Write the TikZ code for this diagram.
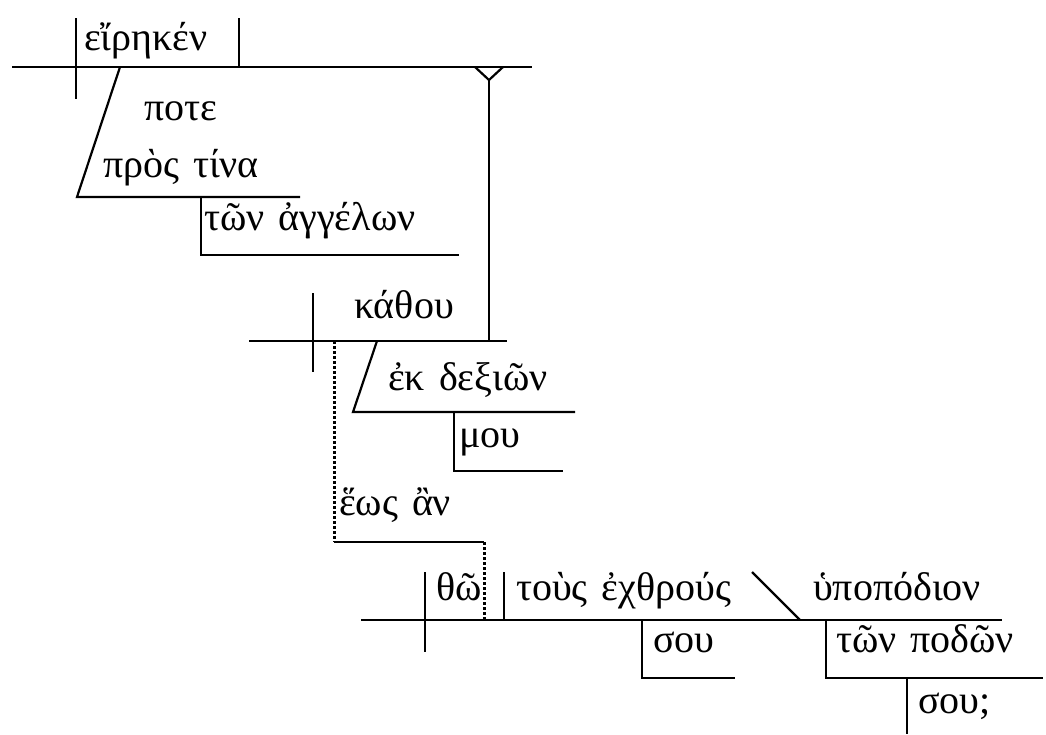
\documentclass[tikz,border=0pt]{standalone}
\usepackage{fontspec}
\setmainfont{Liberation Serif}[WordSpace = 1.4]
\usepackage{tikz}

\tikzset{
  word/.style = {anchor = base west, inner sep = 0pt, font = \fontsize{40}{46}\selectfont},
  dots/.style = {line width = 3pt, dash pattern = on 2.5pt off 2.5pt}
}

\begin{document}
\begin{tikzpicture}
  [x = 1pt, y = -1pt, line width = 2.2pt]
  \useasboundingbox (0,0) rectangle (1046,734);
  % main clause
  \draw (12,67) -- (532,67);
  \draw (76,18) -- (76,99);
  \draw (239,18) -- (239,67);
  \draw (475,67) -- (489,80) -- (503,67);
  \draw (489,80) -- (489,341);
  \draw (120,67) -- (77,197) -- (300,197);
  \draw (201,197) -- (201,255) -- (459,255);
  \draw (83,50) node[word] (eireken) {εἴρηκέν};
  \draw (143,120) node[word] (pote) {ποτε};
  \draw (102,177) node[word] (prostina) {πρὸς τίνα};
  \draw (203,230) node[word] (angelon) {τῶν ἀγγέλων};
  % direct discourse
  \draw (249,341) -- (507,341);
  \draw (313,293) -- (313,372);
  \draw (377,341) -- (353,412) -- (575,412);
  \draw (454,412) -- (454,471) -- (563,471);
  \draw (353,318) node[word] (kathou) {κάθου};
  \draw (387,390) node[word] (dexion) {ἐκ δεξιῶν};
  \draw (458,447) node[word] (mou) {μου};
  % temporal clause
  \draw[dots] (334,341) -- (334,542);
  \draw (334,542) -- (484,542);
  \draw[dots] (484,542) -- (484,620);
  \draw (338,515) node[word] (heos) {ἕως ἂν};
  \draw (361,620) -- (1002,620);
  \draw (425,572) -- (425,652);
  \draw (504,572) -- (504,620);
  \draw (752,572) -- (800,620);
  \draw (642,620) -- (642,678) -- (735,678);
  \draw (826,620) -- (826,678) -- (1043,678);
  \draw (907,678) -- (907,734);
  \draw (435,600) node[word] (tho) {θῶ};
  \draw (515,600) node[word] (echthrous) {τοὺς ἐχθρούς};
  \draw (812,600) node[word] (hypopodion) {ὑποπόδιον};
  \draw (652,652) node[word] (sou) {σου};
  \draw (835,652) node[word] (podon) {τῶν ποδῶν};
  \draw (917,713) node[word] (souq) {σου;};
\end{tikzpicture}
\end{document}
